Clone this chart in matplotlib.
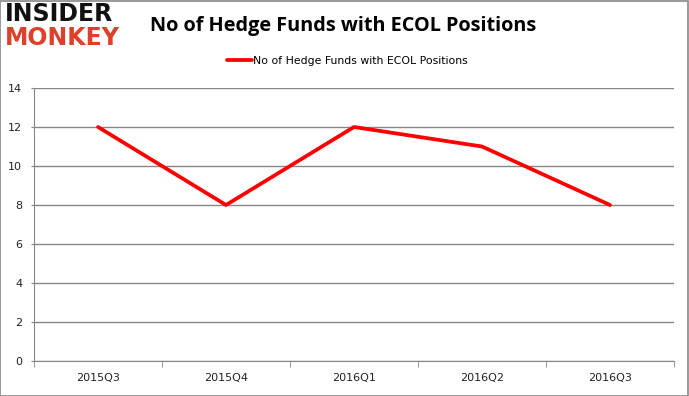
import matplotlib.pyplot as plt
from matplotlib.patches import Rectangle

# data
quarters = ["2015Q3", "2015Q4", "2016Q1", "2016Q2", "2016Q3"]
funds = [12, 8, 12, 11, 8]
y_ticks = [0, 2, 4, 6, 8, 10, 12, 14]

fig = plt.figure(figsize=(6.89, 3.96), dpi=100)
ax = fig.add_axes([34 / 689, 35 / 396, 640 / 689, 273 / 396])

x = list(range(len(quarters)))
ax.plot(x, funds, color="#ff0000", lw=2.7, solid_capstyle="round",
        label="No of Hedge Funds with ECOL Positions", zorder=3)

ax.set_xlim(-0.5, len(quarters) - 0.5)
ax.set_ylim(0, 14)
ax.set_yticks(y_ticks)
ax.set_xticks(x)
ax.set_xticklabels(quarters)
ax.set_xticks([i - 0.5 for i in range(len(quarters) + 1)], minor=True)
ax.tick_params(axis="x", which="major", length=0, pad=9, labelsize=8, colors="#222222")
ax.tick_params(axis="x", which="minor", length=4, color="#868686", direction="out")
ax.tick_params(axis="y", length=2.5, color="#868686", labelsize=8, labelcolor="#222222", pad=6)
ax.grid(axis="y", color="#868686", lw=1)
for s in ["top", "right"]:
    ax.spines[s].set_visible(False)
ax.spines["left"].set_color("#868686")
ax.spines["bottom"].set_color("#868686")

fig.text(0.498, 0.935, "No of Hedge Funds with ECOL Positions", ha="center", va="center",
         fontsize=14.3, fontweight="bold", family="Open Sans")
ax.legend(loc="center", bbox_to_anchor=(0.49, 1.098), frameon=False, fontsize=7.8,
          handlelength=2.3, handletextpad=0.1, borderaxespad=0)

# logo
fig.text(5 / 689, 1 - 14 / 396, "INSIDER", fontsize=17, fontweight="black",
         color="#111111", va="center", ha="left", family="DejaVu Sans")
fig.text(5 / 689, 1 - 38 / 396, "MONKEY", fontsize=17, fontweight="black",
         color="#e0402a", va="center", ha="left", family="DejaVu Sans")

# border
fig.patches.append(Rectangle((0.0007, 0.001), 0.9985, 0.997, transform=fig.transFigure,
                             fill=False, edgecolor="#888888", lw=1.2))

fig.savefig("out.png", dpi=100)
